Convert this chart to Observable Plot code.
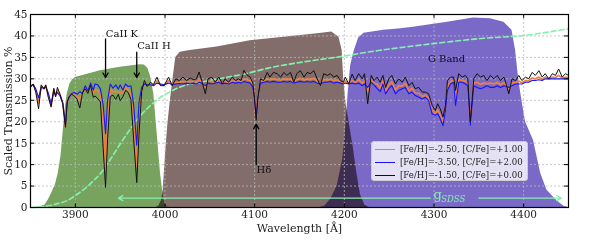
<!DOCTYPE html>
<html><head><meta charset="utf-8">
<script src="https://cdn.jsdelivr.net/npm/d3@7"></script>
<script src="https://cdn.jsdelivr.net/npm/@observablehq/plot@0.6"></script>
<style>
body{margin:0;background:#fff;}
#wrap{position:relative;width:598px;height:241px;font-family:"DejaVu Serif",serif;}
#legend{position:absolute;left:371px;top:141px;width:157px;height:40px;background:rgba(255,255,255,0.8);border:1px solid #ccc;border-radius:3px;box-sizing:border-box;font-size:8.6px;color:#222;}
#legend .row{position:absolute;left:0;height:12px;line-height:12px;white-space:nowrap;}
#legend .sw{position:absolute;left:3px;top:6px;width:20px;height:0;border-top-style:solid;}
#legend .tx{position:absolute;left:28px;top:0;}
</style></head>
<body><div id="wrap"></div>
<script>
// ---------- data ----------
const xTicks = [3900, 4000, 4100, 4200, 4300, 4400];
const yTicks = [0, 5, 10, 15, 20, 25, 30, 35, 40, 45];

const wavelength = [
3850,3853,3856,3859,3862,3865,3867,3870,3873,3876,
3878,3880,3883,3886,3889,3891,3893,3896,3899,3902,
3905,3908,3911,3914,3917,3920,3922,3925,3928,3931,
3933.7,3936,3939,3942,3945,3948,3950,3953,3956,3959,
3962,3965,3968.5,3971,3974,3977,3980,3984,3987,3991,
3995,3999,4004,4008,4012,4016,4020,4024,4028,4032,
4035,4038,4041,4045,4048,4052,4056,4060,4064,4067,
4071,4075,4079,4082,4085,4088,4091,4095,4098,4100,
4101.7,4103.5,4106.5,4110,4114,4117,4121,4125,4129,4132.5,
4136,4140,4143.6,4147,4151,4155,4158.6,4162,4166,4169.7,
4173.4,4177,4181,4184.6,4188,4192,4195.7,4199,4201,4205,
4208.7,4212,4216,4220,4222.5,4226,4230,4233,4236.6,4240,
4243,4246,4249.6,4253,4257,4260.7,4264.5,4268,4272,4275.6,
4279,4283,4287,4290.5,4294,4298,4301.6,4304,4307,4310,
4312.8,4315,4318.4,4322,4324,4327.6,4331.5,4335,4337.7,4340.5,
4344.4,4348,4352,4355.5,4359,4363,4366.7,4370.5,4374,4378,
4381,4383.4,4387,4391,4394.6,4398,4402,4405.7,4409.5,4413,
4417,4420.6,4424,4428,4432,4435.5,4439,4443,4446.6,4450];

// [Fe/H]=-1.50, [C/Fe]=+0.00 (black)
const specFeH150 = [
28.0,28.8,26.8,23.0,28.6,27.6,28.6,25.6,23.4,27.8,
25.8,28.0,26.4,24.2,18.7,24.6,25.9,26.4,26.0,25.2,
23.2,26.8,27.7,26.6,28.5,25.7,26.0,25.4,24.6,14.0,
4.7,16.0,25.9,26.2,25.2,26.4,24.9,25.8,27.3,26.8,
25.2,16.0,5.8,17.0,27.0,29.6,28.2,29.2,28.6,30.4,
28.4,28.4,30.4,28.4,30.0,29.6,30.4,29.6,30.2,29.8,
30.0,31.6,29.6,26.5,30.0,30.4,29.2,30.4,28.8,30.0,
29.2,30.4,29.6,30.0,29.6,32.0,31.0,30.4,29.0,25.0,
20.3,25.5,30.0,29.6,31.5,30.4,31.5,31.2,30.4,31.5,
30.8,31.5,29.2,31.2,31.9,30.4,31.5,31.2,31.9,30.0,
28.4,31.2,30.8,31.2,30.4,30.8,29.6,29.2,30.4,28.8,
31.1,29.6,31.2,30.0,31.2,24.2,30.8,29.6,30.4,29.2,
30.8,28.0,30.0,30.8,28.8,30.0,29.2,30.4,28.4,29.2,
27.7,28.0,26.9,26.9,26.5,23.8,22.6,24.2,23.0,21.1,
23.8,29.6,30.4,30.4,27.3,31.2,30.4,30.8,30.0,20.0,
30.0,31.2,30.4,30.8,29.6,30.8,30.0,30.8,29.6,30.4,
28.4,26.5,30.0,29.6,30.8,29.6,30.4,30.0,31.5,30.8,
31.9,30.4,31.2,30.0,31.2,30.8,32.3,30.4,31.2,30.8];

// [Fe/H]=-3.50, [C/Fe]=+2.00 (blue)
const specFeH350 = [
28.4,28.6,27.6,25.6,28.0,27.8,28.2,26.6,24.2,27.0,
26.2,26.8,26.0,24.4,19.2,24.8,25.6,26.6,26.8,26.4,
27.0,26.6,28.4,27.2,29.0,27.4,28.8,28.6,27.6,24.0,
17.2,25.0,28.8,27.8,28.6,27.6,28.6,27.4,28.8,28.2,
28.4,24.0,14.5,24.5,28.0,28.8,28.6,28.6,28.4,29.0,
28.8,28.6,29.0,28.6,28.8,28.9,28.8,29.0,28.8,29.0,
28.8,29.2,29.0,28.4,29.0,28.8,29.0,29.2,28.8,29.0,
28.8,29.2,29.0,29.2,29.0,29.4,29.2,29.0,28.0,25.0,
20.8,25.5,29.0,29.2,29.4,29.2,29.4,29.2,29.2,29.4,
29.2,29.4,29.0,29.2,29.4,29.2,29.4,29.2,29.4,29.0,
28.8,29.2,29.2,29.4,29.0,29.2,29.0,28.8,29.0,28.8,
29.0,28.8,29.0,28.4,28.8,28.0,29.2,28.6,27.7,27.0,
28.8,26.5,27.7,28.4,26.5,27.3,27.7,28.0,26.5,26.9,
26.1,25.7,25.3,25.7,24.9,21.8,21.5,21.9,20.7,19.1,
22.6,27.3,28.8,29.2,23.8,29.2,29.2,28.8,28.4,19.2,
28.4,28.0,27.7,28.0,28.4,28.0,28.0,28.4,28.0,28.4,
28.2,28.0,28.4,28.8,28.8,28.8,29.2,29.2,29.6,29.6,
29.8,29.6,30.0,30.0,30.0,30.0,30.0,30.0,30.0,30.0];

// [Fe/H]=-2.50, [C/Fe]=+1.00 (orange)
const specFeH250 = [
28.2,28.7,27.2,24.4,28.3,27.7,28.4,26.0,23.8,27.4,
26.0,27.3,26.2,24.3,18.9,24.7,25.8,26.5,26.4,25.8,
25.2,26.7,28.0,26.9,28.7,26.5,27.5,27.2,26.2,19.5,
8.6,21.0,27.6,27.0,27.0,27.0,26.8,26.6,28.0,27.5,
26.8,20.0,9.6,21.0,27.6,29.2,28.4,28.9,28.5,29.5,
28.6,28.5,29.6,28.6,29.2,29.2,29.4,29.3,29.4,29.4,
29.3,29.8,29.3,28.0,29.4,29.4,29.1,29.6,28.9,29.4,
29.0,29.6,29.3,29.5,29.3,30.0,29.8,29.6,28.5,25.0,
20.5,25.5,29.5,29.4,30.0,29.8,30.0,29.8,29.7,30.0,
29.8,30.0,29.1,29.8,30.1,29.7,30.0,29.8,30.1,29.5,
28.6,29.8,29.7,29.9,29.6,29.7,29.3,29.0,29.5,28.8,
29.7,29.1,29.8,29.0,29.6,27.0,29.8,29.0,28.8,27.8,
29.5,27.0,28.6,29.3,27.4,28.4,28.3,29.0,27.2,27.8,
26.7,26.6,25.9,26.2,25.5,22.6,21.9,22.8,21.6,19.9,
23.0,28.2,29.4,29.6,25.2,29.9,29.6,29.5,29.0,19.5,
29.0,29.2,28.7,29.0,28.9,29.0,28.8,29.2,28.6,29.1,
28.3,27.6,29.0,29.1,29.5,29.1,29.6,29.5,30.2,30.0,
30.4,29.9,30.4,30.0,30.4,30.3,30.8,30.2,30.4,30.3];

// filter transmission curves
const caLam = [3855,3860,3866,3870,3874,3878,3881,3884,3887,3889,3891,3894,3897,3900,3928,3950,3972,3977,3981,3984,3987.5,3991.3,3995,3998.7,4002,4006];
const caT   = [0,0.1,0.5,1.8,3.5,5.5,8,12,19,23.5,26.5,28.8,29.8,30.3,31.9,32.7,33.3,33.2,32.4,30.5,26.5,17.2,7.9,1.7,0.2,0];
const brLam = [3990,3993,3996,3998,4000.5,4003,4006,4009,4012,4017,4028,4058,4095,4132.5,4170,4186,4194,4197.6,4199.4,4202,4206,4210,4214,4218,4223,4228];
const brT   = [0,0.3,1.6,4,12,19,25,30,35,36.2,36.6,37.4,38.9,39.7,40.5,40.9,39.7,36.6,29.6,24,19,14,8,3,0.5,0];
const gbLam = [4172,4178,4185,4192,4198,4201,4204,4207,4211,4216,4222,4244,4263,4277,4315,4344,4363,4378,4387,4391,4394.6,4398,4402,4411,4419,4426,4437,4445,4450];
const gbT   = [0,0.3,2,5,11,17,26,33,36.5,39.5,40.6,41.3,41.7,42,43.2,44.2,44,43.2,41.3,36.6,29.6,25,20,15.6,7.9,4,1.6,0.3,0];
const gsdssLam = [3850,3860,3870,3880,3891,3900,3910,3920,3928,3940,3950,3962,3973,3985,3995,4006,4017,4040,4065,4090,4115,4153,4190,4238,4299,4352,4400,4450];
const gsdssT   = [0,0.1,0.4,0.9,1.6,2.8,4.3,6.2,7.9,11.5,14.8,18.5,21.5,24,25.7,27,28.1,29.2,30.2,31.2,32.5,33.9,35,36.6,38.2,39.4,40.1,41.7];

// annotations
const lineLabels = ["CaII K", "CaII H", "Hδ"];
const labelLam   = [3934, 3969, 4102];
const labelVal   = [40.4, 37.8, 8.7];
const bandLabel  = ["G Band"];
const bandLam    = [4314];
const bandVal    = [34.6];
const arrowLam  = [3933.7, 3968.5, 4101.7];
const arrowFrom = [39.3, 36.2, 10.0];
const arrowTo   = [30.3, 30.3, 19.4];
const gArrowFrom = [4296, 4350];
const gArrowTo   = [3948, 4442];
const gArrowVal  = 2.2;

// ---------- build ----------
const tbl = (l, v) => l.map((x, i) => ({x, y: v[i]}));
const MINT = "#86f0b0";

const chart = Plot.plot({
  width: 598, height: 241,
  marginLeft: 30, marginRight: 30, marginTop: 14, marginBottom: 34,
  style: {fontFamily: "DejaVu Serif", fontSize: "10px", background: "white", color: "#222"},
  x: {domain: [3850, 4450], ticks: xTicks, tickFormat: d => String(d), label: null},
  y: {domain: [0, 45], ticks: yTicks, label: null},
  marks: [
    Plot.areaY(tbl(caLam, caT), {x: "x", y: "y", fill: "#78a35f"}),
    Plot.areaY(tbl(brLam, brT), {x: "x", y: "y", fill: "#826d6b"}),
    Plot.areaY(tbl(gbLam, gbT), {x: "x", y: "y", fill: "#7a69c6"}),
    Plot.gridX(xTicks, {stroke: "#b8b8b8", strokeOpacity: 1, strokeDasharray: "2,2", strokeWidth: 0.8}),
    Plot.gridY(yTicks, {stroke: "#b8b8b8", strokeOpacity: 1, strokeDasharray: "2,2", strokeWidth: 0.8}),
    Plot.line(tbl(gsdssLam, gsdssT), {x: "x", y: "y", stroke: MINT, strokeWidth: 1.6, strokeDasharray: "5,3", curve: "monotone-x"}),
    Plot.line(tbl(wavelength, specFeH250), {x: "x", y: "y", stroke: "#f08040", strokeWidth: 1.7}),
    Plot.line(tbl(wavelength, specFeH350), {x: "x", y: "y", stroke: "#1515ff", strokeWidth: 1.1}),
    Plot.line(tbl(wavelength, specFeH150), {x: "x", y: "y", stroke: "#111", strokeWidth: 1.0}),
    Plot.arrow(arrowLam, {x1: d => d, x2: d => d, y1: (d, i) => arrowFrom[i], y2: (d, i) => arrowTo[i], stroke: "black", strokeWidth: 1.3, headLength: 6}),
    Plot.arrow(gArrowFrom, {x1: d => d, x2: (d, i) => gArrowTo[i], y1: gArrowVal, y2: gArrowVal, stroke: MINT, strokeWidth: 1.3, headLength: 6}),
    Plot.text(lineLabels, {x: (d, i) => labelLam[i], y: (d, i) => labelVal[i], text: d => d, textAnchor: "start", fontSize: 10, fill: "#111"}),
    Plot.text(bandLabel, {x: (d, i) => bandLam[i], y: (d, i) => bandVal[i], text: d => d, textAnchor: "middle", fontSize: 10, fill: "#111"}),
    Plot.text(["g"], {x: 4299.5, y: 2.9, text: d => d, textAnchor: "start", fontSize: 13, fill: MINT}),
    Plot.text(["SDSS"], {x: 4308, y: 2.0, text: d => d, textAnchor: "start", fontSize: 8.5, fontStyle: "italic", fill: MINT}),
    Plot.ruleX(xTicks, {x: d => d, y1: 0, y2: 0.9, stroke: "black"}),
    Plot.ruleX(xTicks, {x: d => d, y1: 45, y2: 44.1, stroke: "black"}),
    Plot.ruleY(yTicks, {y: d => d, x1: 3850, x2: 3854.5, stroke: "black"}),
    Plot.ruleY(yTicks, {y: d => d, x1: 4450, x2: 4445.5, stroke: "black"}),
    Plot.axisX(xTicks, {tickSize: 0, tickPadding: 3, tickFormat: d => String(d), label: null, fontSize: 10.5}),
    Plot.axisY(yTicks, {tickSize: 0, tickPadding: 3, label: null, fontSize: 10.5}),
    Plot.frame({stroke: "black", strokeWidth: 1.2}),
    Plot.text(["Wavelength [Å]"], {frameAnchor: "bottom", dy: 21, lineAnchor: "middle", textAnchor: "middle", text: d => d, fontSize: 11}),
    Plot.text(["Scaled Transmission %"], {frameAnchor: "left", dx: -22, rotate: -90, lineAnchor: "middle", textAnchor: "middle", text: d => d, fontSize: 11})
  ]
});
chart.querySelectorAll('g[aria-label="area"]').forEach(g => g.style.mixBlendMode = "multiply");
const wrap = document.getElementById("wrap");
wrap.appendChild(chart);

// legend
const legendLabels = ["[Fe/H]=-2.50, [C/Fe]=+1.00", "[Fe/H]=-3.50, [C/Fe]=+2.00", "[Fe/H]=-1.50, [C/Fe]=+0.00"];
const legendColors = ["#f08040", "#1515ff", "#111"];
const lg = document.createElement("div");
lg.id = "legend";
legendLabels.forEach((t, i) => {
  const r = document.createElement("div");
  r.className = "row";
  r.style.top = (1 + i * 12.8) + "px";
  r.innerHTML = `<span class="sw" style="border-top-color:${legendColors[i]};border-top-width:${i === 0 ? 1.5 : 1.2}px"></span><span class="tx">${t}</span>`;
  lg.appendChild(r);
});
wrap.appendChild(lg);
</script></body></html>
